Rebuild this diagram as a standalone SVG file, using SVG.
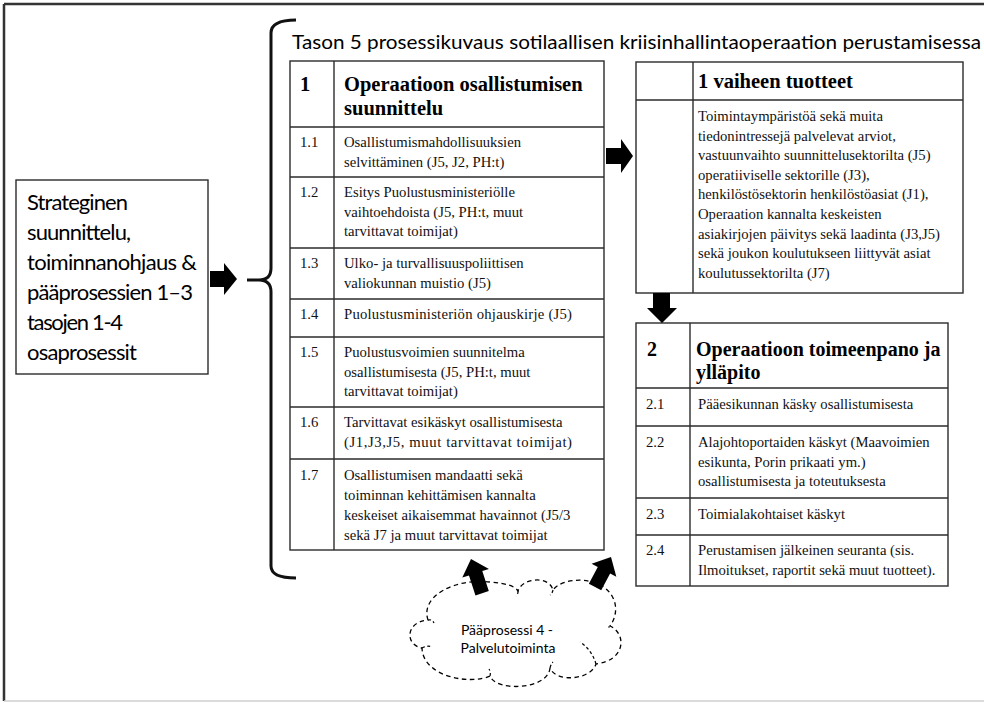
<svg xmlns="http://www.w3.org/2000/svg" width="984" height="703" viewBox="0 0 984 703">
  <style>
    .frame { fill: none; stroke: #333; stroke-width: 2.5; }
    .cell { fill: #fff; stroke: #2b2b2b; stroke-width: 1.4; }
    .rule { stroke: #2b2b2b; stroke-width: 1.4; }
    .sans { font-family: Lato, "Open Sans", "Noto Sans", sans-serif; fill: #000; }
    .body { font-family: "Liberation Serif", "Times New Roman", serif; font-size: 14.7px; fill: #111; }
    .head { font-family: "Liberation Serif", "Times New Roman", serif; font-weight: bold; font-size: 20.5px; fill: #000; }
    .blk { fill: #000; }
    .cloud { fill: #fff; stroke: #000; stroke-width: 1.3; stroke-dasharray: 4.5 3.5; }
    .tick { fill: none; stroke: #000; stroke-width: 1.2; }
  </style>

  <!-- page frame -->
  <rect x="0" y="0" width="984" height="703" fill="#fff"/>
  <line x1="4" y1="4" x2="984" y2="4" class="frame"/>
  <line x1="4" y1="4" x2="4" y2="701" class="frame"/>
  <line x1="4" y1="701" x2="984" y2="701" stroke="#cfcfcf" stroke-width="1.5"/>

  <!-- heading over the process tables -->
  <text class="sans" x="292" y="49" font-size="19" textLength="689" lengthAdjust="spacingAndGlyphs">Tason 5 prosessikuvaus sotilaallisen kriisinhallintaoperaation perustamisessa</text>

  <!-- left input box -->
  <g id="strategy">
    <rect x="16" y="180" width="192" height="194" class="cell"/>
    <g class="sans" font-size="22">
      <text x="27" y="210" textLength="101">Strateginen</text>
      <text x="27" y="240" textLength="104">suunnittelu,</text>
      <text x="27" y="270" textLength="170">toiminnanohjaus &amp;</text>
      <text x="27" y="300" textLength="166">pääprosessien 1–3</text>
      <text x="27" y="330" textLength="96">tasojen 1-4</text>
      <text x="27" y="360" textLength="110">osaprosessit</text>
    </g>
  </g>

  <!-- brace grouping the level 5 process -->
  <g id="brace">
    <path d="M296,20 Q271,20 271,33 L271,268 Q271,280 259,280 L247,280 M259,280 Q271,280 271,292 L271,566 Q271,578 296,578" fill="none" stroke="#111" stroke-width="3"/>
  </g>

  <!-- phase 1 table -->
  <g id="phase1">
    <rect x="290" y="61" width="314" height="489" class="cell"/>
    <line x1="334" y1="61" x2="334" y2="550" class="rule"/>
    <line x1="290" y1="127" x2="604" y2="127" class="rule"/>
    <line x1="290" y1="177" x2="604" y2="177" class="rule"/>
    <line x1="290" y1="248" x2="604" y2="248" class="rule"/>
    <line x1="290" y1="299" x2="604" y2="299" class="rule"/>
    <line x1="290" y1="337" x2="604" y2="337" class="rule"/>
    <line x1="290" y1="407" x2="604" y2="407" class="rule"/>
    <line x1="290" y1="459" x2="604" y2="459" class="rule"/>
    <g class="head">
      <text x="300" y="91">1</text>
      <text x="344" y="91">Operaatioon osallistumisen</text>
      <text x="344" y="115">suunnittelu</text>
    </g>
    <g class="body">
      <text x="300" y="147">1.1</text>
      <text x="344" y="147">Osallistumismahdollisuuksien</text>
      <text x="344" y="166.7">selvittäminen (J5, J2, PH:t)</text>
      <text x="300" y="197">1.2</text>
      <text x="344" y="197">Esitys Puolustusministeriölle</text>
      <text x="344" y="216.7">vaihtoehdoista (J5, PH:t, muut</text>
      <text x="344" y="236.4">tarvittavat toimijat)</text>
      <text x="300" y="268">1.3</text>
      <text x="344" y="268">Ulko- ja turvallisuuspoliittisen</text>
      <text x="344" y="287.7">valiokunnan muistio (J5)</text>
      <text x="300" y="319">1.4</text>
      <text x="344" y="319" textLength="228">Puolustusministeriön ohjauskirje (J5)</text>
      <text x="300" y="357">1.5</text>
      <text x="344" y="357">Puolustusvoimien suunnitelma</text>
      <text x="344" y="376.7">osallistumisesta (J5, PH:t, muut</text>
      <text x="344" y="396.4">tarvittavat toimijat)</text>
      <text x="300" y="427">1.6</text>
      <text x="344" y="427">Tarvittavat esikäskyt osallistumisesta</text>
      <text x="344" y="446.7" textLength="228">(J1,J3,J5, muut tarvittavat toimijat)</text>
      <text x="300" y="480">1.7</text>
      <text x="344" y="480">Osallistumisen mandaatti sekä</text>
      <text x="344" y="500">toiminnan kehittämisen kannalta</text>
      <text x="344" y="520">keskeiset aikaisemmat havainnot (J5/3</text>
      <text x="344" y="540">sekä J7 ja muut tarvittavat toimijat</text>
    </g>
  </g>

  <!-- phase 1 outputs -->
  <g id="outputs">
    <rect x="636" y="62" width="327" height="231" class="cell"/>
    <line x1="693" y1="62" x2="693" y2="293" class="rule"/>
    <line x1="636" y1="100" x2="963" y2="100" class="rule"/>
    <text class="head" x="698" y="88">1 vaiheen tuotteet</text>
    <g class="body">
      <text x="698" y="121">Toimintaympäristöä sekä muita</text>
      <text x="698" y="140.6">tiedonintressejä palvelevat arviot,</text>
      <text x="698" y="160.2">vastuunvaihto suunnittelusektorilta (J5)</text>
      <text x="698" y="179.8">operatiiviselle sektorille (J3),</text>
      <text x="698" y="199.4">henkilöstösektorin henkilöstöasiat (J1),</text>
      <text x="698" y="219">Operaation kannalta keskeisten</text>
      <text x="698" y="238.6">asiakirjojen päivitys sekä laadinta (J3,J5)</text>
      <text x="698" y="258.2">sekä joukon koulutukseen liittyvät asiat</text>
      <text x="698" y="277.8">koulutussektorilta (J7)</text>
    </g>
  </g>

  <!-- phase 2 table -->
  <g id="phase2">
    <rect x="636" y="323" width="312" height="263" class="cell"/>
    <line x1="690" y1="323" x2="690" y2="586" class="rule"/>
    <line x1="636" y1="388" x2="948" y2="388" class="rule"/>
    <line x1="636" y1="426" x2="948" y2="426" class="rule"/>
    <line x1="636" y1="498" x2="948" y2="498" class="rule"/>
    <line x1="636" y1="535" x2="948" y2="535" class="rule"/>
    <g class="head" font-size="20px" style="font-size:20px">
      <text x="647" y="356">2</text>
      <text x="696" y="356">Operaatioon toimeenpano ja</text>
      <text x="696" y="379">ylläpito</text>
    </g>
    <g class="body">
      <text x="646" y="409">2.1</text>
      <text x="698" y="409">Pääesikunnan käsky osallistumisesta</text>
      <text x="646" y="447">2.2</text>
      <text x="698" y="447">Alajohtoportaiden käskyt (Maavoimien</text>
      <text x="698" y="466.7">esikunta, Porin prikaati ym.)</text>
      <text x="698" y="486.4">osallistumisesta ja toteutuksesta</text>
      <text x="646" y="519">2.3</text>
      <text x="698" y="519">Toimialakohtaiset käskyt</text>
      <text x="646" y="555">2.4</text>
      <text x="698" y="555">Perustamisen jälkeinen seuranta (sis.</text>
      <text x="698" y="574.5">Ilmoitukset, raportit sekä muut tuotteet).</text>
    </g>
  </g>

  <!-- supporting process cloud -->
  <g id="support">
    <path class="cloud" d="M428,620 C420,596 455,578 490,582 C505,583 515,586 518,591 C522,578 549,575 553,590 C562,577 600,575 612,596 C618,606 616,618 610,626 C626,633 627,660 596,664 C591,680 556,683 550,668 C548,690 496,692 490,676 C470,685 423,677 422,648 C405,645 405,622 428,620 Z"/>
    <g class="tick" stroke-dasharray="3 2.5">
      <path d="M428,620 q4,-1 6,3"/>
      <path d="M422,648 q5,-3 10,-1"/>
      <path d="M518,591 q0,4 -2,5"/>
      <path d="M553,590 q-1,4 -3,5"/>
      <path d="M596,664 q-4,-14 -16,-22"/>
      <path d="M550,668 q1,-4 3,-6"/>
      <path d="M490,676 q1,-4 -1,-7"/>
    </g>
    <circle cx="609" cy="627" r="0.8" fill="#000"/>
    <g class="sans" font-size="14" text-anchor="middle">
      <text x="507" y="635">Pääprosessi 4 -</text>
      <text x="508" y="653">Palvelutoiminta</text>
    </g>
  </g>

  <!-- block arrows between the parts -->
  <g id="connectors">
    <polygon class="blk" points="210,271 224,271 224,263 237,279 224,295 224,287 210,287"/>
    <polygon class="blk" points="606,148 621,148 621,139 633,156 621,173 621,164 606,164"/>
    <polygon class="blk" points="653,293 670,293 670,308 677,308 662,323 647,308 653,308"/>
    <polygon class="blk" transform="translate(471,559) rotate(-18)" points="0,0 14,15 7,15 7,36 -7,36 -7,15 -14,15"/>
    <polygon class="blk" transform="translate(611,557) rotate(28)" points="0,0 14,15 7,15 7,34 -7,34 -7,15 -14,15"/>
  </g>
</svg>
